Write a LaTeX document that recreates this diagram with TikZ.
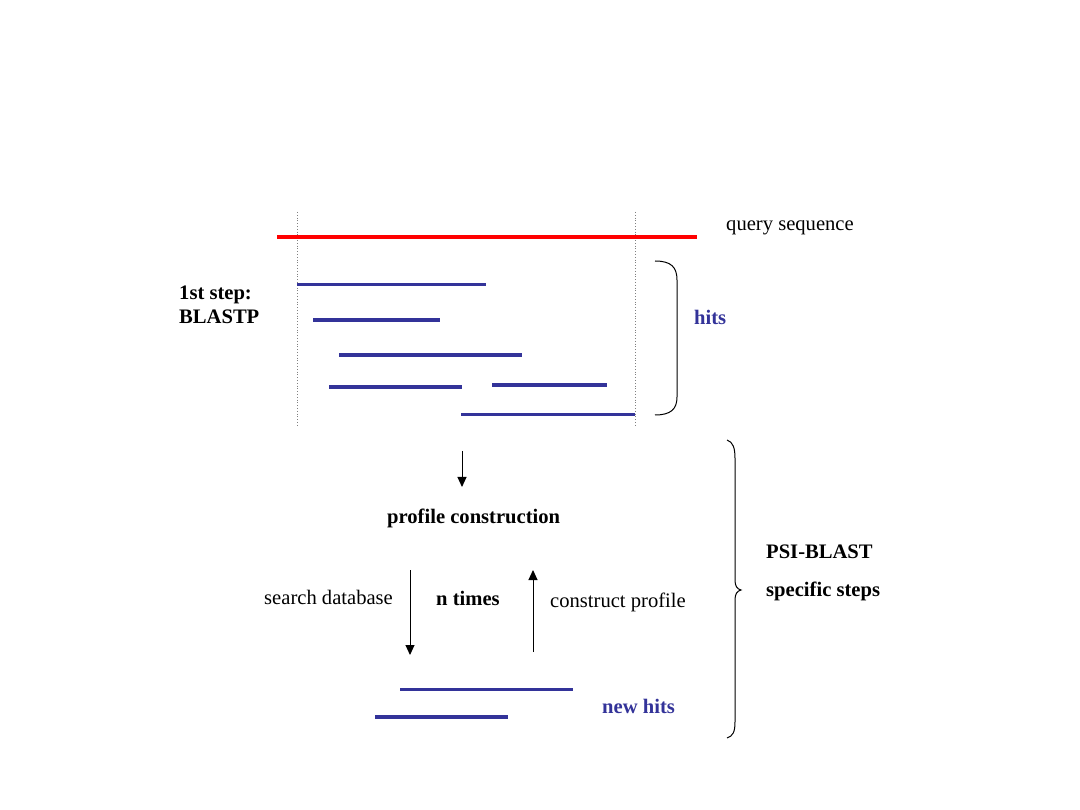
\documentclass[tikz,border=0pt]{standalone}
\usepackage{fontspec}
\setmainfont{Liberation Serif}
\usetikzlibrary{arrows.meta}
\definecolor{hitblue}{HTML}{333399}
\definecolor{qred}{HTML}{FF0000}
\tikzset{
  lbl/.style={anchor=base west, inner sep=0pt, font=\fontsize{20.6}{23}\selectfont},
  blbl/.style={lbl, font=\fontsize{20.6}{23}\selectfont\bfseries},
  bluelbl/.style={blbl, text=hitblue},
  hitline/.style={draw=hitblue, line width=3.2pt},
  queryline/.style={draw=qred, line width=3.4pt},
  guide/.style={draw=gray, line width=0.8pt, dotted},
  flow/.style={draw=black, line width=1pt, -{Triangle[length=10pt,width=9pt]}},
  bracepath/.style={draw=black, line width=1pt}
}
\begin{document}
\begin{tikzpicture}[x=1pt,y=-1pt]
\useasboundingbox (0,0) rectangle (1080,810);
% guide lines
\coordinate (g1t) at (297,212); \coordinate (g1b) at (297,426);
\coordinate (g2t) at (635,212); \coordinate (g2b) at (635,426);
\draw[guide] (g1t) -- (g1b);
\draw[guide] (g2t) -- (g2b);
% query
\coordinate (qa) at (277,237); \coordinate (qb) at (697,237);
\draw[queryline] (qa) -- (qb);
% hits
\coordinate (h1a) at (297,284.5); \coordinate (h1b) at (486,284.5);
\coordinate (h2a) at (313,320); \coordinate (h2b) at (440,320);
\coordinate (h3a) at (339,355); \coordinate (h3b) at (522,355);
\coordinate (h4a) at (329,387); \coordinate (h4b) at (462,387);
\coordinate (h5a) at (492,385); \coordinate (h5b) at (607,385);
\coordinate (h6a) at (461,414.5); \coordinate (h6b) at (635,414.5);
\draw[hitline] (h1a) -- (h1b);
\draw[hitline] (h2a) -- (h2b);
\draw[hitline] (h3a) -- (h3b);
\draw[hitline] (h4a) -- (h4b);
\draw[hitline] (h5a) -- (h5b);
\draw[hitline] (h6a) -- (h6b);
% hits bracket
\draw[bracepath] (655,261) .. controls (671,261) and (677,267) .. (677,280) -- (677,397) .. controls (677,409) and (671,415) .. (655,415);
% labels
\node[lbl] (query) at (726,231) {query sequence};
\node[blbl] (step1) at (179,300) {1st step:};
\node[blbl] (blastp) at (179,324) {BLASTP};
\node[bluelbl] (hits) at (694,325) {hits};
% first arrow
\coordinate (a0s) at (462,451); \coordinate (a0e) at (462,487);
\draw[flow] (a0s) -- (a0e);
\node[blbl] (profile) at (387,523) {profile construction};
\node[lbl] (search) at (264,604) {search database};
\node[blbl] (ntimes) at (436,605) {n times};
\node[lbl] (construct) at (550,607) {construct profile};
\coordinate (a1s) at (410,570); \coordinate (a1e) at (410,655);
\coordinate (a2s) at (533,652); \coordinate (a2e) at (533,570);
\draw[flow] (a1s) -- (a1e);
\draw[flow] (a2s) -- (a2e);
% new hits
\coordinate (n1a) at (400,689.5); \coordinate (n1b) at (573,689.5);
\coordinate (n2a) at (375,717); \coordinate (n2b) at (508,717);
\draw[hitline] (n1a) -- (n1b);
\draw[hitline] (n2a) -- (n2b);
\node[bluelbl] (newhits) at (602,713) {new hits};
% big brace
\draw[bracepath] (727,440) .. controls (733,442) and (735,448) .. (735,458) -- (735,580) .. controls (735,586) and (737,589) .. (741,590) .. controls (737,591) and (735,594) .. (735,600) -- (735,722) .. controls (735,732) and (733,736) .. (727,738);
\node[blbl] (psi) at (766,558) {PSI-BLAST};
\node[blbl] (specific) at (766,596) {specific steps};
\end{tikzpicture}
\end{document}
